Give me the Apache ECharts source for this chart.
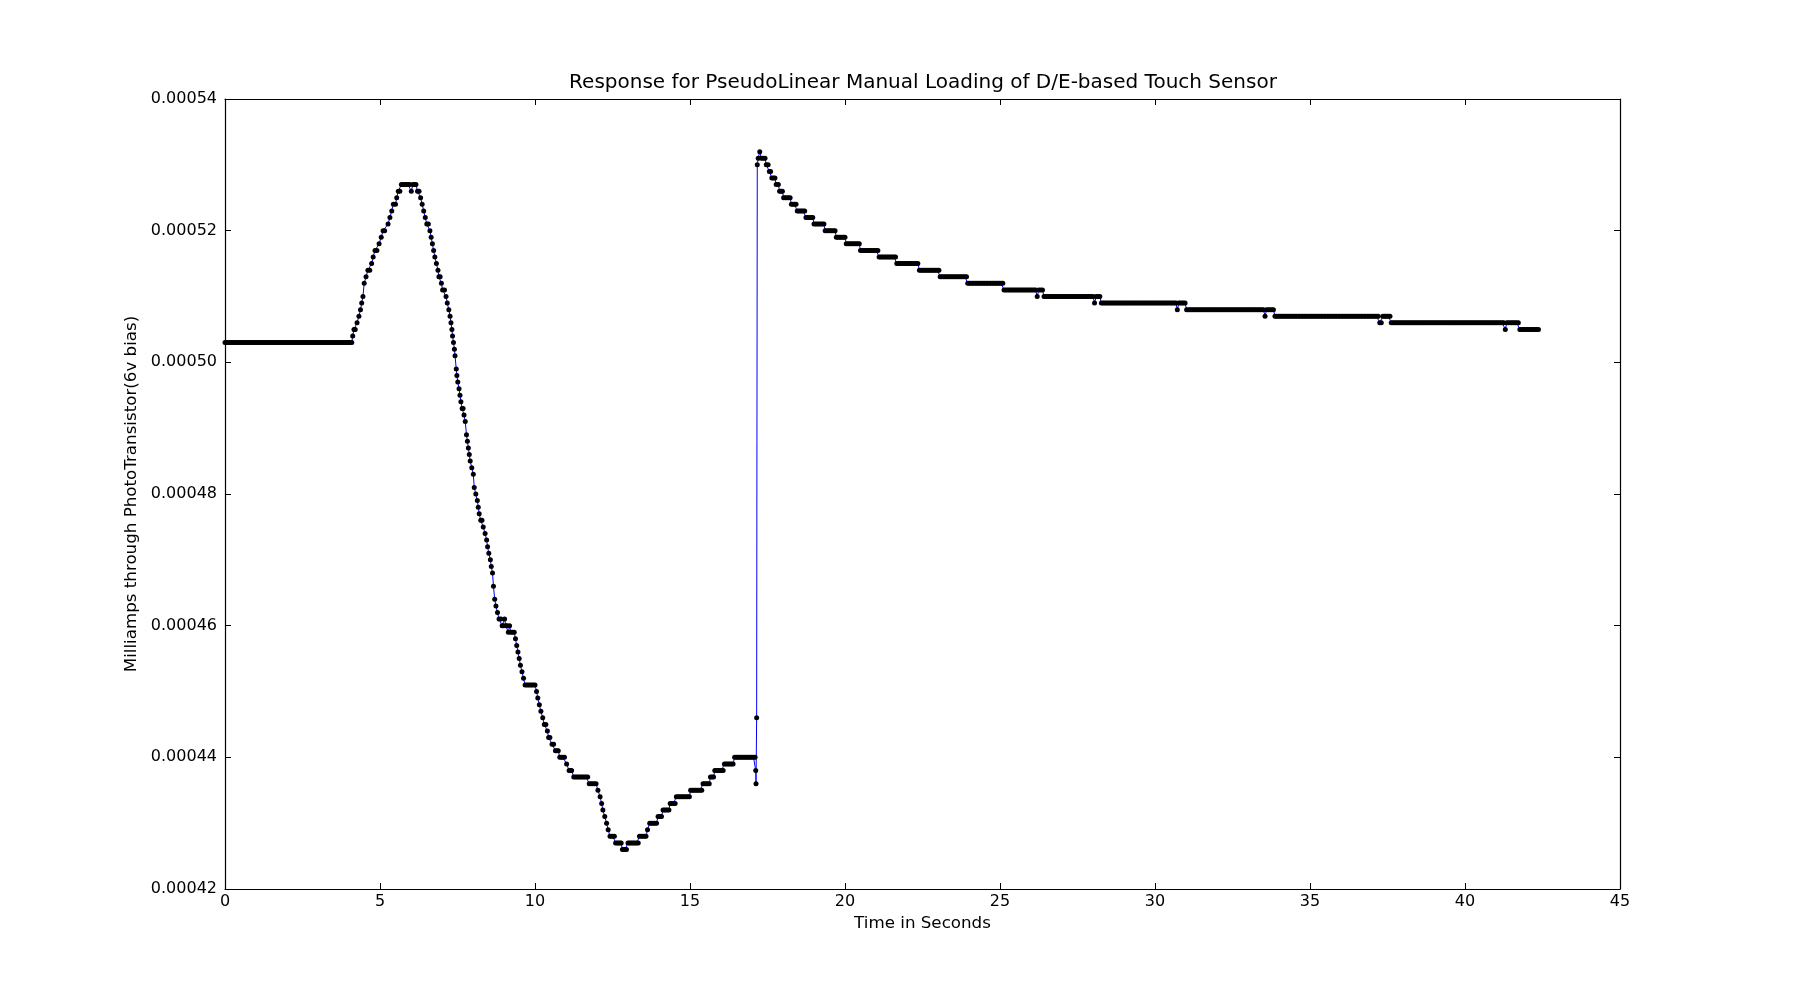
<!DOCTYPE html>
<html>
<head>
<meta charset="utf-8">
<title>Response for PseudoLinear Manual Loading of D/E-based Touch Sensor</title>
<script src="https://cdn.jsdelivr.net/npm/echarts@6/dist/echarts.min.js"></script>
<style>
  html, body { margin: 0; padding: 0; background: #fff; }
  #chart { width: 1800px; height: 988px; }
</style>
</head>
<body>
<div id="chart"></div>
<script>
// readings as runs: [start s, end s, current in units of 1e-6 mA]
// a run with start == end is a single sample
var SAMPLE_DT = 0.05;

var baseline = [[0, 4.09, 503]];

var firstRise = [
    [4.12, 4.12, 504], [4.16, 4.2, 505], [4.26, 4.26, 506], [4.32, 4.32, 507],
    [4.37, 4.37, 508], [4.41, 4.41, 509], [4.45, 4.45, 510], [4.49, 4.49, 512],
    [4.55, 4.55, 513], [4.61, 4.67, 514], [4.73, 4.73, 515], [4.78, 4.78, 516],
    [4.84, 4.9, 517], [4.97, 4.97, 518], [5.04, 5.04, 519], [5.1, 5.15, 520],
    [5.26, 5.26, 521], [5.32, 5.32, 522], [5.38, 5.38, 523], [5.43, 5.5, 524],
    [5.54, 5.54, 525], [5.59, 5.64, 526], [5.69, 5.96, 527], [6.01, 6.01, 526],
    [6.06, 6.16, 527]
];

var fall = [
    [6.21, 6.26, 526], [6.31, 6.31, 525], [6.36, 6.36, 524], [6.41, 6.41, 523],
    [6.46, 6.46, 522], [6.51, 6.56, 521], [6.61, 6.61, 520], [6.65, 6.65, 519],
    [6.69, 6.69, 518], [6.73, 6.73, 517], [6.77, 6.77, 516], [6.82, 6.82, 515],
    [6.87, 6.87, 514], [6.9, 6.94, 513], [6.98, 6.98, 512], [7.02, 7.08, 511],
    [7.13, 7.13, 510], [7.17, 7.19, 509], [7.22, 7.22, 508], [7.26, 7.26, 507],
    [7.29, 7.29, 506], [7.32, 7.32, 505], [7.34, 7.34, 504], [7.37, 7.37, 503],
    [7.4, 7.4, 502], [7.42, 7.42, 501], [7.46, 7.46, 499], [7.48, 7.48, 498],
    [7.51, 7.51, 497], [7.55, 7.55, 496], [7.58, 7.58, 495], [7.61, 7.61, 494],
    [7.65, 7.68, 493], [7.71, 7.71, 492], [7.75, 7.75, 491], [7.79, 7.79, 489],
    [7.82, 7.82, 488], [7.85, 7.85, 487], [7.88, 7.88, 486], [7.91, 7.91, 485],
    [7.96, 7.96, 484], [8.01, 8.01, 483], [8.04, 8.04, 481], [8.09, 8.09, 480],
    [8.14, 8.14, 479], [8.17, 8.17, 478], [8.2, 8.2, 477], [8.25, 8.29, 476],
    [8.33, 8.33, 475], [8.39, 8.39, 474], [8.44, 8.44, 473], [8.47, 8.47, 472],
    [8.51, 8.51, 471], [8.56, 8.56, 470], [8.59, 8.59, 469], [8.63, 8.63, 468],
    [8.66, 8.66, 466], [8.7, 8.7, 464], [8.74, 8.74, 463], [8.79, 8.79, 462],
    [8.84, 8.9, 461], [8.94, 8.98, 460], [9.02, 9.02, 461], [9.06, 9.1, 460],
    [9.14, 9.14, 459], [9.18, 9.18, 460], [9.22, 9.33, 459], [9.37, 9.37, 458],
    [9.41, 9.41, 457], [9.45, 9.45, 456], [9.49, 9.49, 455], [9.53, 9.53, 454],
    [9.58, 9.58, 453], [9.63, 9.63, 452], [9.68, 10.0, 451], [10.05, 10.05, 450],
    [10.09, 10.09, 449], [10.14, 10.14, 448], [10.19, 10.19, 447], [10.25, 10.25, 446],
    [10.3, 10.35, 445], [10.4, 10.4, 444], [10.44, 10.48, 443], [10.55, 10.6, 442],
    [10.66, 10.75, 441], [10.8, 10.95, 440], [11.02, 11.02, 439], [11.1, 11.18, 438],
    [11.25, 11.7, 437], [11.75, 11.97, 436], [12.03, 12.03, 435], [12.1, 12.1, 434],
    [12.15, 12.15, 433], [12.19, 12.19, 432], [12.25, 12.25, 431], [12.31, 12.31, 430],
    [12.36, 12.36, 429], [12.42, 12.56, 428], [12.6, 12.78, 427], [12.82, 12.95, 426]
];

var recovery = [
    [13.0, 13.33, 427], [13.37, 13.58, 428], [13.63, 13.63, 429], [13.7, 13.92, 430],
    [13.97, 14.08, 431], [14.13, 14.32, 432], [14.36, 14.52, 433], [14.56, 14.98, 434],
    [15.02, 15.38, 435], [15.42, 15.62, 436], [15.66, 15.76, 437], [15.8, 16.07, 438],
    [16.11, 16.39, 439], [16.44, 17.1, 440], [17.12, 17.12, 438], [17.13, 17.13, 436],
    [17.15, 17.15, 446]
];

var spike = [
    [17.17, 17.17, 530], [17.2, 17.2, 531], [17.25, 17.25, 532], [17.3, 17.42, 531],
    [17.46, 17.52, 530], [17.56, 17.6, 529], [17.64, 17.74, 528], [17.78, 17.85, 527],
    [17.89, 17.98, 526], [18.02, 18.23, 525], [18.27, 18.42, 524], [18.46, 18.7, 523],
    [18.74, 18.96, 522], [19.0, 19.32, 521], [19.36, 19.68, 520], [19.72, 20.0, 519],
    [20.04, 20.46, 518], [20.5, 21.06, 517], [21.1, 21.63, 516], [21.67, 22.35, 515],
    [22.4, 23.03, 514], [23.07, 23.92, 513], [23.96, 25.09, 512]
];

var decay = [
    [25.13, 26.15, 511], [26.2, 26.2, 510], [26.25, 26.37, 511], [26.42, 28.0, 510],
    [28.05, 28.05, 509], [28.1, 28.22, 510], [28.27, 30.68, 509], [30.72, 30.72, 508],
    [30.77, 30.97, 509], [31.02, 33.5, 508], [33.55, 33.55, 507], [33.6, 33.82, 508],
    [33.87, 37.2, 507], [37.25, 37.3, 506], [37.35, 37.58, 507], [37.62, 41.25, 506],
    [41.3, 41.3, 505], [41.35, 41.72, 506], [41.77, 42.37, 505]
];

var xTicks = [0, 45, 5];          // min, max, step
var yTicks = [420, 540, 20];      // in 1e-6 mA

// every sample of a run sits at the same reading
function samples(runs) {
    var out = [];
    runs.forEach(function (r) {
        var n = Math.max(0, Math.round((r[1] - r[0]) / SAMPLE_DT));
        for (var i = 0; i <= n; i++) {
            var t = n === 0 ? r[0] : r[0] + (r[1] - r[0]) * i / n;
            out.push([t, r[2]]);
        }
    });
    return out;
}

var points = [].concat(
    samples(baseline), samples(firstRise), samples(fall),
    samples(recovery), samples(spike), samples(decay)
);

var myChart = echarts.init(document.getElementById('chart'), null, { renderer: 'canvas' });

var font = 'DejaVu Sans';
var tickStyle = { show: true, inside: true, length: 6, lineStyle: { color: '#000', width: 1 } };
var lineStyle = { show: true, onZero: false, lineStyle: { color: '#000', width: 1.2 } };

var option = {
    animation: false,
    backgroundColor: '#fff',
    title: {
        text: 'Response for PseudoLinear Manual Loading of D/E-based Touch Sensor',
        left: 918,
        top: 68,
        textAlign: 'center',
        textStyle: { fontFamily: font, fontSize: 20, fontWeight: 'normal', color: '#000' }
    },
    grid: { left: 225, right: 180, top: 99, bottom: 99, containLabel: false },
    xAxis: [
        {
            type: 'value',
            min: xTicks[0], max: xTicks[1], interval: xTicks[2],
            name: 'Time in Seconds',
            nameLocation: 'middle',
            nameGap: 25,
            nameTextStyle: { fontFamily: font, fontSize: 16.7, color: '#000' },
            axisLine: lineStyle,
            axisTick: tickStyle,
            axisLabel: { fontFamily: font, fontSize: 16, color: '#000', margin: 5 },
            splitLine: { show: false }
        },
        {
            type: 'value', position: 'top',
            min: xTicks[0], max: xTicks[1], interval: xTicks[2],
            axisLine: lineStyle,
            axisTick: tickStyle,
            axisLabel: { show: false },
            splitLine: { show: false }
        }
    ],
    yAxis: [
        {
            type: 'value',
            min: yTicks[0], max: yTicks[1], interval: yTicks[2],
            name: 'Milliamps through PhotoTransistor(6v bias)',
            nameLocation: 'middle',
            nameGap: 74,
            nameTextStyle: { fontFamily: font, fontSize: 16.7, color: '#000' },
            axisLine: lineStyle,
            axisTick: tickStyle,
            axisLabel: {
                fontFamily: font, fontSize: 16, color: '#000', margin: 8,
                formatter: function (v) { return (v * 1e-6).toFixed(5); }
            },
            splitLine: { show: false }
        },
        {
            type: 'value', position: 'right',
            min: yTicks[0], max: yTicks[1], interval: yTicks[2],
            axisLine: lineStyle,
            axisTick: tickStyle,
            axisLabel: { show: false },
            splitLine: { show: false }
        }
    ],
    series: [
        {
            type: 'line',
            data: points,
            xAxisIndex: 0,
            yAxisIndex: 0,
            showSymbol: true,
            symbol: 'circle',
            symbolSize: 5,
            itemStyle: { color: '#000' },
            lineStyle: { color: '#0000ff', width: 1 },
            silent: true
        }
    ]
};

myChart.setOption(option);
</script>
</body>
</html>
